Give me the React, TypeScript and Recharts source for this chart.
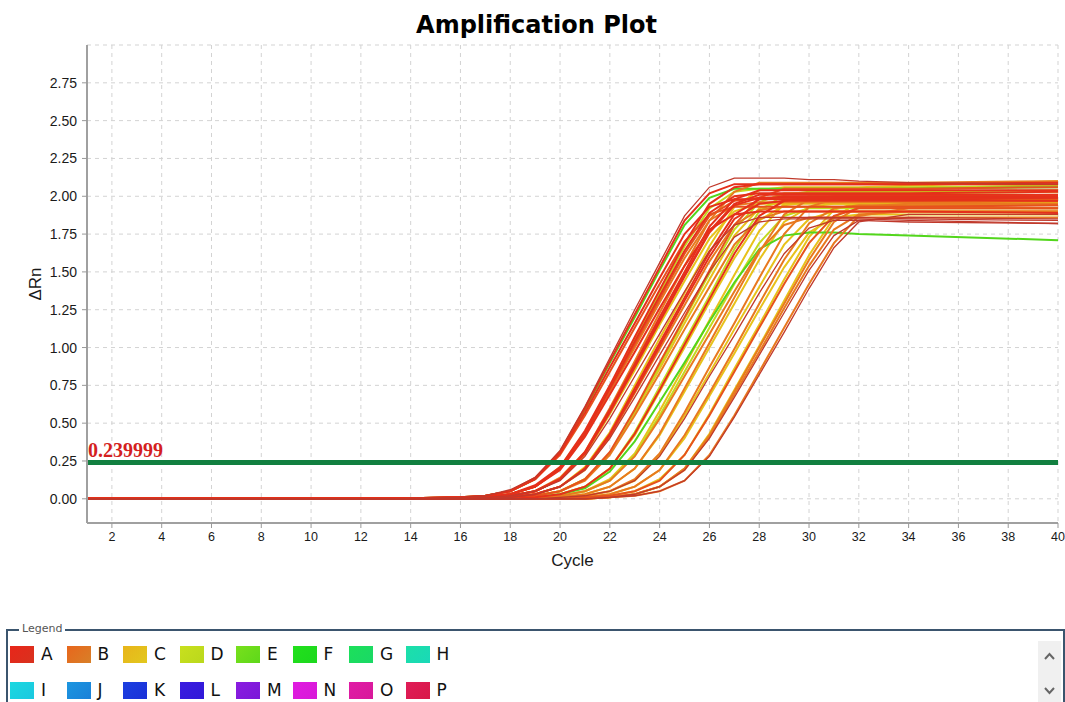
import React from 'react';
import { LineChart, Line, XAxis, YAxis, CartesianGrid, ReferenceLine } from 'recharts';

// ---- data ----
const cycles = [1, 13, 16, 17, 18, 19, 20, 21, 22, 23, 24, 25, 26, 27, 28, 29, 30, 31, 32, 34, 40];

const xTicks = [2, 4, 6, 8, 10, 12, 14, 16, 18, 20, 22, 24, 26, 28, 30, 32, 34, 36, 38, 40];
const yTicks = [0, 0.25, 0.5, 0.75, 1.0, 1.25, 1.5, 1.75, 2.0, 2.25, 2.5, 2.75];

const thresholdValue = 0.239999;
const thresholdLabel = '0.239999';

// one row per well: ΔRn at the cycles above
const curveValues: number[][] = [
  [0, 0, 0.01, 0.02, 0.05, 0.13, 0.31, 0.59, 0.90, 1.20, 1.51, 1.81, 1.99, 2.05, 2.05, 2.05, 2.05, 2.05, 2.05, 2.05, 2.06],
  [0, 0, 0.01, 0.02, 0.06, 0.14, 0.32, 0.61, 0.93, 1.25, 1.56, 1.87, 2.06, 2.12, 2.12, 2.12, 2.11, 2.11, 2.10, 2.09, 2.08],
  [0, 0, 0.01, 0.02, 0.05, 0.13, 0.30, 0.57, 0.87, 1.16, 1.46, 1.75, 1.93, 1.98, 1.98, 1.98, 1.98, 1.98, 1.98, 1.98, 1.97],
  [0, 0, 0.01, 0.02, 0.05, 0.13, 0.29, 0.55, 0.84, 1.13, 1.42, 1.70, 1.88, 1.93, 1.93, 1.93, 1.93, 1.93, 1.93, 1.93, 1.94],
  [0, 0, 0.01, 0.01, 0.03, 0.09, 0.21, 0.45, 0.75, 1.07, 1.38, 1.69, 1.95, 2.06, 2.08, 2.08, 2.08, 2.08, 2.08, 2.08, 2.08],
  [0, 0, 0.01, 0.01, 0.03, 0.08, 0.20, 0.43, 0.73, 1.04, 1.34, 1.64, 1.89, 2.00, 2.02, 2.02, 2.02, 2.02, 2.02, 2.02, 2.03],
  [0, 0, 0.00, 0.01, 0.03, 0.08, 0.20, 0.42, 0.71, 1.00, 1.30, 1.59, 1.84, 1.94, 1.96, 1.96, 1.96, 1.96, 1.96, 1.96, 1.95],
  [0, 0, 0.01, 0.01, 0.03, 0.08, 0.21, 0.44, 0.74, 1.05, 1.36, 1.67, 1.92, 2.03, 2.05, 2.05, 2.05, 2.05, 2.05, 2.06, 2.07],
  [0, 0, 0.00, 0.01, 0.03, 0.08, 0.19, 0.41, 0.69, 0.97, 1.26, 1.54, 1.78, 1.88, 1.90, 1.90, 1.90, 1.90, 1.90, 1.90, 1.89],
  [0, 0, 0.00, 0.01, 0.02, 0.05, 0.13, 0.31, 0.59, 0.89, 1.20, 1.50, 1.80, 1.98, 2.04, 2.04, 2.04, 2.04, 2.04, 2.04, 2.04],
  [0, 0, 0.00, 0.01, 0.02, 0.05, 0.13, 0.30, 0.57, 0.87, 1.17, 1.47, 1.76, 1.94, 1.99, 1.99, 1.99, 1.99, 1.99, 1.99, 1.99],
  [0, 0, 0.00, 0.01, 0.02, 0.05, 0.14, 0.31, 0.60, 0.91, 1.23, 1.54, 1.84, 2.03, 2.09, 2.09, 2.09, 2.09, 2.09, 2.09, 2.10],
  [0, 0, 0.00, 0.01, 0.02, 0.05, 0.12, 0.28, 0.53, 0.81, 1.09, 1.37, 1.64, 1.81, 1.86, 1.86, 1.86, 1.86, 1.86, 1.85, 1.84],
  [0, 0, 0.00, 0.01, 0.02, 0.05, 0.13, 0.29, 0.56, 0.85, 1.15, 1.44, 1.72, 1.90, 1.95, 1.95, 1.95, 1.95, 1.95, 1.96, 1.98],
  [0, 0, 0.00, 0.01, 0.01, 0.03, 0.08, 0.20, 0.43, 0.73, 1.03, 1.33, 1.63, 1.88, 1.98, 2.00, 2.00, 2.00, 2.00, 2.00, 2.00],
  [0, 0, 0.00, 0.00, 0.01, 0.03, 0.08, 0.19, 0.41, 0.70, 0.99, 1.28, 1.57, 1.81, 1.91, 1.93, 1.93, 1.93, 1.93, 1.93, 1.92],
  [0, 0, 0.00, 0.01, 0.01, 0.03, 0.08, 0.21, 0.44, 0.75, 1.06, 1.36, 1.67, 1.93, 2.04, 2.06, 2.06, 2.06, 2.06, 2.07, 2.10],
  [0, 0, 0.00, 0.00, 0.01, 0.03, 0.08, 0.19, 0.40, 0.67, 0.95, 1.23, 1.50, 1.73, 1.83, 1.85, 1.85, 1.85, 1.85, 1.84, 1.82],
  [0, 0, 0.00, 0.00, 0.01, 0.02, 0.05, 0.13, 0.30, 0.57, 0.86, 1.16, 1.45, 1.74, 1.92, 1.97, 1.97, 1.97, 1.97, 1.97, 1.97],
  [0, 0, 0.00, 0.00, 0.01, 0.02, 0.05, 0.13, 0.30, 0.58, 0.88, 1.19, 1.49, 1.78, 1.96, 2.02, 2.02, 2.02, 2.02, 2.02, 2.03],
  [0, 0, 0.00, 0.00, 0.01, 0.02, 0.05, 0.12, 0.29, 0.55, 0.83, 1.12, 1.40, 1.68, 1.85, 1.90, 1.90, 1.90, 1.90, 1.90, 1.90],
  [0, 0, 0.00, 0.00, 0.01, 0.01, 0.03, 0.08, 0.20, 0.44, 0.74, 1.04, 1.34, 1.65, 1.90, 2.01, 2.03, 2.03, 2.03, 2.03, 2.04],
  [0, 0, 0.00, 0.00, 0.00, 0.01, 0.03, 0.08, 0.20, 0.42, 0.71, 1.00, 1.30, 1.59, 1.84, 1.94, 1.96, 1.96, 1.96, 1.96, 1.96],
  [0, 0, 0.00, 0.00, 0.00, 0.01, 0.03, 0.07, 0.18, 0.38, 0.64, 0.90, 1.17, 1.43, 1.65, 1.74, 1.76, 1.76, 1.75, 1.74, 1.71],
  [0, 0, 0.00, 0.00, 0.00, 0.01, 0.03, 0.08, 0.20, 0.43, 0.72, 1.02, 1.32, 1.62, 1.87, 1.97, 1.99, 1.99, 1.99, 1.99, 1.99],
  [0, 0, 0.00, 0.00, 0.00, 0.01, 0.02, 0.05, 0.13, 0.30, 0.58, 0.88, 1.18, 1.48, 1.77, 1.95, 2.00, 2.00, 2.00, 2.00, 2.01],
  [0, 0, 0.00, 0.00, 0.00, 0.01, 0.02, 0.05, 0.12, 0.29, 0.55, 0.84, 1.13, 1.42, 1.69, 1.87, 1.92, 1.92, 1.92, 1.92, 1.92],
  [0, 0, 0.00, 0.00, 0.00, 0.01, 0.02, 0.05, 0.12, 0.28, 0.53, 0.81, 1.09, 1.37, 1.64, 1.81, 1.86, 1.86, 1.86, 1.86, 1.86],
  [0, 0, 0.00, 0.00, 0.00, 0.00, 0.01, 0.03, 0.08, 0.20, 0.42, 0.71, 1.00, 1.29, 1.58, 1.83, 1.93, 1.95, 1.95, 1.95, 1.95],
  [0, 0, 0.00, 0.00, 0.00, 0.01, 0.01, 0.03, 0.08, 0.20, 0.43, 0.73, 1.03, 1.33, 1.63, 1.88, 1.98, 2.00, 2.00, 2.00, 2.00],
  [0, 0, 0.00, 0.00, 0.00, 0.00, 0.01, 0.02, 0.05, 0.13, 0.30, 0.57, 0.87, 1.16, 1.46, 1.75, 1.93, 1.98, 1.98, 1.98, 1.98],
  [0, 0, 0.00, 0.00, 0.00, 0.00, 0.01, 0.02, 0.05, 0.12, 0.29, 0.55, 0.83, 1.12, 1.40, 1.68, 1.85, 1.90, 1.90, 1.90, 1.90],
  [0, 0, 0.00, 0.00, 0.00, 0.00, 0.01, 0.02, 0.05, 0.12, 0.28, 0.53, 0.81, 1.08, 1.36, 1.62, 1.79, 1.84, 1.84, 1.83, 1.82],
  [0, 0, 0.00, 0.00, 0.00, 0.00, 0.00, 0.01, 0.03, 0.08, 0.19, 0.42, 0.70, 0.99, 1.29, 1.58, 1.82, 1.92, 1.94, 1.94, 1.94],
  [0, 0, 0.00, 0.00, 0.00, 0.00, 0.00, 0.01, 0.03, 0.08, 0.19, 0.40, 0.68, 0.96, 1.25, 1.53, 1.76, 1.86, 1.88, 1.88, 1.88],
  [0, 0, 0.00, 0.00, 0.00, 0.00, 0.00, 0.01, 0.02, 0.05, 0.12, 0.29, 0.55, 0.84, 1.13, 1.42, 1.69, 1.87, 1.92, 1.92, 1.92],
  [0, 0, 0.00, 0.00, 0.00, 0.00, 0.00, 0.01, 0.02, 0.05, 0.13, 0.29, 0.56, 0.86, 1.15, 1.45, 1.73, 1.91, 1.96, 1.96, 1.96],
  [0, 0, 0.00, 0.00, 0.00, 0.00, 0.00, 0.00, 0.01, 0.03, 0.08, 0.19, 0.41, 0.69, 0.97, 1.26, 1.54, 1.78, 1.88, 1.90, 1.90],
  [0, 0, 0.00, 0.00, 0.00, 0.00, 0.00, 0.00, 0.01, 0.03, 0.08, 0.19, 0.40, 0.67, 0.95, 1.23, 1.51, 1.74, 1.84, 1.86, 1.85],
  [0, 0, 0.00, 0.00, 0.00, 0.00, 0.00, 0.00, 0.01, 0.02, 0.05, 0.12, 0.28, 0.54, 0.82, 1.10, 1.39, 1.66, 1.83, 1.88, 1.88],
  [0, 0, 0.00, 0.00, 0.00, 0.00, 0.00, 0.00, 0.01, 0.03, 0.08, 0.20, 0.42, 0.71, 1.00, 1.29, 1.58, 1.83, 1.93, 1.95, 1.95],
  [0, 0, 0.01, 0.02, 0.05, 0.14, 0.31, 0.60, 0.91, 1.22, 1.53, 1.84, 2.02, 2.08, 2.08, 2.08, 2.08, 2.08, 2.08, 2.08, 2.09],
  [0, 0, 0.00, 0.01, 0.03, 0.08, 0.20, 0.43, 0.72, 1.02, 1.32, 1.62, 1.87, 1.97, 1.99, 1.99, 1.99, 1.99, 1.99, 1.99, 1.99],
  [0, 0, 0.00, 0.01, 0.02, 0.05, 0.13, 0.30, 0.58, 0.88, 1.18, 1.48, 1.77, 1.95, 2.01, 2.01, 2.01, 2.01, 2.01, 2.01, 2.01],
  [0, 0, 0.00, 0.00, 0.01, 0.03, 0.08, 0.20, 0.42, 0.71, 1.01, 1.31, 1.60, 1.85, 1.95, 1.97, 1.97, 1.97, 1.97, 1.97, 1.97],
  [0, 0, 0.00, 0.00, 0.01, 0.02, 0.05, 0.13, 0.31, 0.59, 0.90, 1.20, 1.51, 1.81, 1.99, 2.05, 2.05, 2.05, 2.05, 2.05, 2.06],
  [0, 0, 0.00, 0.00, 0.00, 0.00, 0.00, 0.00, 0.01, 0.02, 0.05, 0.12, 0.29, 0.55, 0.84, 1.13, 1.42, 1.69, 1.87, 1.92, 1.92],
  [0, 0, 0.00, 0.00, 0.00, 0.00, 0.00, 0.00, 0.01, 0.03, 0.08, 0.20, 0.43, 0.72, 1.01, 1.31, 1.61, 1.86, 1.96, 1.98, 1.99],
];

// colour family of each well curve
const curveKinds = [
  'green', 'dark', 'red', 'orangeRed', 'red', 'red', 'orange', 'lime', 'red', 'red',
  'red', 'orange', 'dark', 'yellow', 'red', 'orange', 'yellow', 'dark', 'yellow', 'lime',
  'orange', 'lime', 'yellow', 'green', 'red', 'yellow', 'lime', 'orange', 'yellow', 'orange',
  'orange', 'yellow', 'dark', 'orange', 'yellow', 'orangeRed', 'yellow', 'orange', 'dark', 'dark',
  'orange', 'red', 'orangeRed', 'red', 'red', 'orangeRed', 'orange', 'yellow',
];

const kindColors: Record<string, string> = {
  red: '#e5301b',
  orangeRed: '#e6521d',
  orange: '#e8791f',
  yellow: '#e7c21b',
  lime: '#c3d91f',
  green: '#52d61c',
  dark: '#c0392b',
};
const kindOrder = ['yellow', 'lime', 'green', 'orange', 'orangeRed', 'red', 'dark'];

const legendRow1 = ['A', 'B', 'C', 'D', 'E', 'F', 'G', 'H'];
const legendRow2 = ['I', 'J', 'K', 'L', 'M', 'N', 'O', 'P'];
const legendColors1 = [
  ['#e8261a', '#d8321e'], ['#e8661c', '#d88028'], ['#e8b41a', '#e2c81e'], ['#c8e01e', '#bad81c'],
  ['#78e01c', '#5ed81a'], ['#22e01c', '#1cd81e'], ['#1ce05a', '#1ad866'], ['#1ce0a8', '#1ad8b8'],
];
const legendColors2 = [
  ['#1cd8e0', '#1ac8e0'], ['#1c96e0', '#1a80d8'], ['#1c40e0', '#1a30d8'], ['#3a1ce0', '#3018d8'],
  ['#8a1ce0', '#7a18d8'], ['#e01ce0', '#d818d8'], ['#e01ca6', '#d8189a'], ['#e01c58', '#d81848'],
];

// ---- table for recharts ----
const chartData = cycles.map((c, i) => {
  const row: Record<string, number> = { cycle: c };
  curveValues.forEach((vals, j) => {
    row['w' + j] = vals[i];
  });
  return row;
});

const drawOrder = curveValues
  .map((_, j) => j)
  .sort((a, b) => kindOrder.indexOf(curveKinds[a]) - kindOrder.indexOf(curveKinds[b]));

const FONT = '"Liberation Sans", Arial, sans-serif';

const YTick = (props: any) => {
  const { x, y, payload } = props;
  return (
    <text x={x} y={y} dy="0.36em" textAnchor="end" fontSize={14} fill="#1a1a1a" fontFamily={FONT}>
      {Number(payload.value).toFixed(2)}
    </text>
  );
};

const XTick = (props: any) => {
  const { x, y, payload } = props;
  return (
    <text x={x} y={y} dy="0.71em" textAnchor="middle" fontSize={12.5} fill="#1a1a1a" fontFamily={FONT}>
      {payload.value}
    </text>
  );
};

const YLabel = (props: any) => {
  const vb = props.viewBox || {};
  const x = vb.x + 8;
  const y = vb.y + vb.height / 2;
  return (
    <text x={x} y={y} transform={`rotate(-90 ${x} ${y})`} textAnchor="middle" dominantBaseline="central"
      fontSize={17} fill="#1a1a1a" fontFamily={FONT}>ΔRn</text>
  );
};

const XLabel = (props: any) => {
  const vb = props.viewBox || {};
  return (
    <text x={vb.x + vb.width / 2} y={vb.y + 43} textAnchor="middle"
      fontSize={17} fill="#1a1a1a" fontFamily={FONT}>Cycle</text>
  );
};

const ThresholdLabel = (props: any) => {
  const vb = props.viewBox || {};
  return (
    <text x={vb.x + 1} y={vb.y - 5} textAnchor="start" fontSize={20} fontWeight="bold"
      fill="#d41f1f" fontFamily='"Liberation Serif", "Times New Roman", serif'>{thresholdLabel}</text>
  );
};

const LegendItem = ({ letter, colors, left }: { letter: string; colors: string[]; left: number }) => (
  <div style={{ position: 'absolute', left, top: 0, height: 20, display: 'flex', alignItems: 'center' }}>
    <div style={{ width: 24, height: 17, background: `linear-gradient(135deg, ${colors[0]}, ${colors[1]})` }} />
    <span style={{ marginLeft: 7, fontSize: 17, color: '#111', fontFamily: '"DejaVu Sans", Verdana, sans-serif' }}>{letter}</span>
  </div>
);

export default function App() {
  return (
    <div style={{ position: 'absolute', left: 0, top: 0, width: 1065, height: 702, background: '#fff', overflow: 'hidden' }}>
      <div style={{
        position: 'absolute', left: 0, width: 1073, top: 11, textAlign: 'center',
        fontFamily: '"DejaVu Sans", Verdana, sans-serif', fontWeight: 'bold', fontSize: 24, color: '#000',
      }}>Amplification Plot</div>

      <div style={{ position: 'absolute', left: 0, top: 0 }}>
        <LineChart width={1065} height={590} data={chartData} margin={{ top: 45, right: 7, left: 27, bottom: 20 }}>
          <CartesianGrid stroke="#d3d3d3" strokeDasharray="4 4" />
          <XAxis dataKey="cycle" type="number" domain={[1, 40]} ticks={xTicks} allowDataOverflow
            height={47} tick={<XTick />} tickSize={5} tickMargin={4} tickLine={{ stroke: '#999' }}
            axisLine={{ stroke: '#a0a0a0', strokeWidth: 2 }} interval={0} label={<XLabel />} />
          <XAxis xAxisId="top" orientation="top" type="number" domain={[1, 40]} height={0}
            tick={false} tickLine={false} axisLine={{ stroke: '#b8b8b8', strokeWidth: 1.5 }} />
          <YAxis type="number" domain={[-0.16, 3.0]} ticks={yTicks} allowDataOverflow width={60}
            tick={<YTick />} tickSize={5} tickMargin={5} tickLine={{ stroke: '#999' }}
            axisLine={{ stroke: '#a0a0a0', strokeWidth: 2 }} interval={0} label={<YLabel />} />
          <YAxis yAxisId="right" orientation="right" width={0} domain={[-0.16, 3.0]}
            tick={false} tickLine={false} axisLine={{ stroke: '#c8c8c8', strokeWidth: 1 }} />
          {drawOrder.map((j) => (
            <Line key={'w' + j} dataKey={'w' + j} type="linear" dot={false} activeDot={false}
              stroke={kindColors[curveKinds[j]]}
              strokeWidth={curveKinds[j] === 'dark' ? 1.3 : 2}
              isAnimationActive={false} />
          ))}
          <ReferenceLine y={thresholdValue} stroke="#128040" strokeWidth={5} label={<ThresholdLabel />} />
        </LineChart>
      </div>

      {/* legend panel */}
      <div style={{ position: 'absolute', left: 6, top: 629, width: 1055, height: 90, borderTop: '2px solid #3b556e', borderLeft: '2px solid #3b556e', borderRight: '2px solid #3b556e' }} />
      <div style={{ position: 'absolute', left: 19, top: 622, background: '#fff', padding: '0 3px', fontSize: 11, color: '#555', fontFamily: '"DejaVu Sans", Verdana, sans-serif' }}>Legend</div>
      <div style={{ position: 'absolute', left: 10, top: 644, width: 900, height: 20 }}>
        {legendRow1.map((l, i) => <LegendItem key={l} letter={l} colors={legendColors1[i]} left={i * 56.5} />)}
      </div>
      <div style={{ position: 'absolute', left: 10, top: 680, width: 900, height: 20 }}>
        {legendRow2.map((l, i) => <LegendItem key={l} letter={l} colors={legendColors2[i]} left={i * 56.5} />)}
      </div>
      <div style={{ position: 'absolute', left: 1038, top: 641, width: 23, height: 61, background: '#f0f0f0' }}>
        <svg width={23} height={61}>
          <polyline points="7,18 11.5,13 16,18" fill="none" stroke="#666" strokeWidth={2} />
          <polyline points="7,47 11.5,52 16,47" fill="none" stroke="#666" strokeWidth={2} />
        </svg>
      </div>
    </div>
  );
}
